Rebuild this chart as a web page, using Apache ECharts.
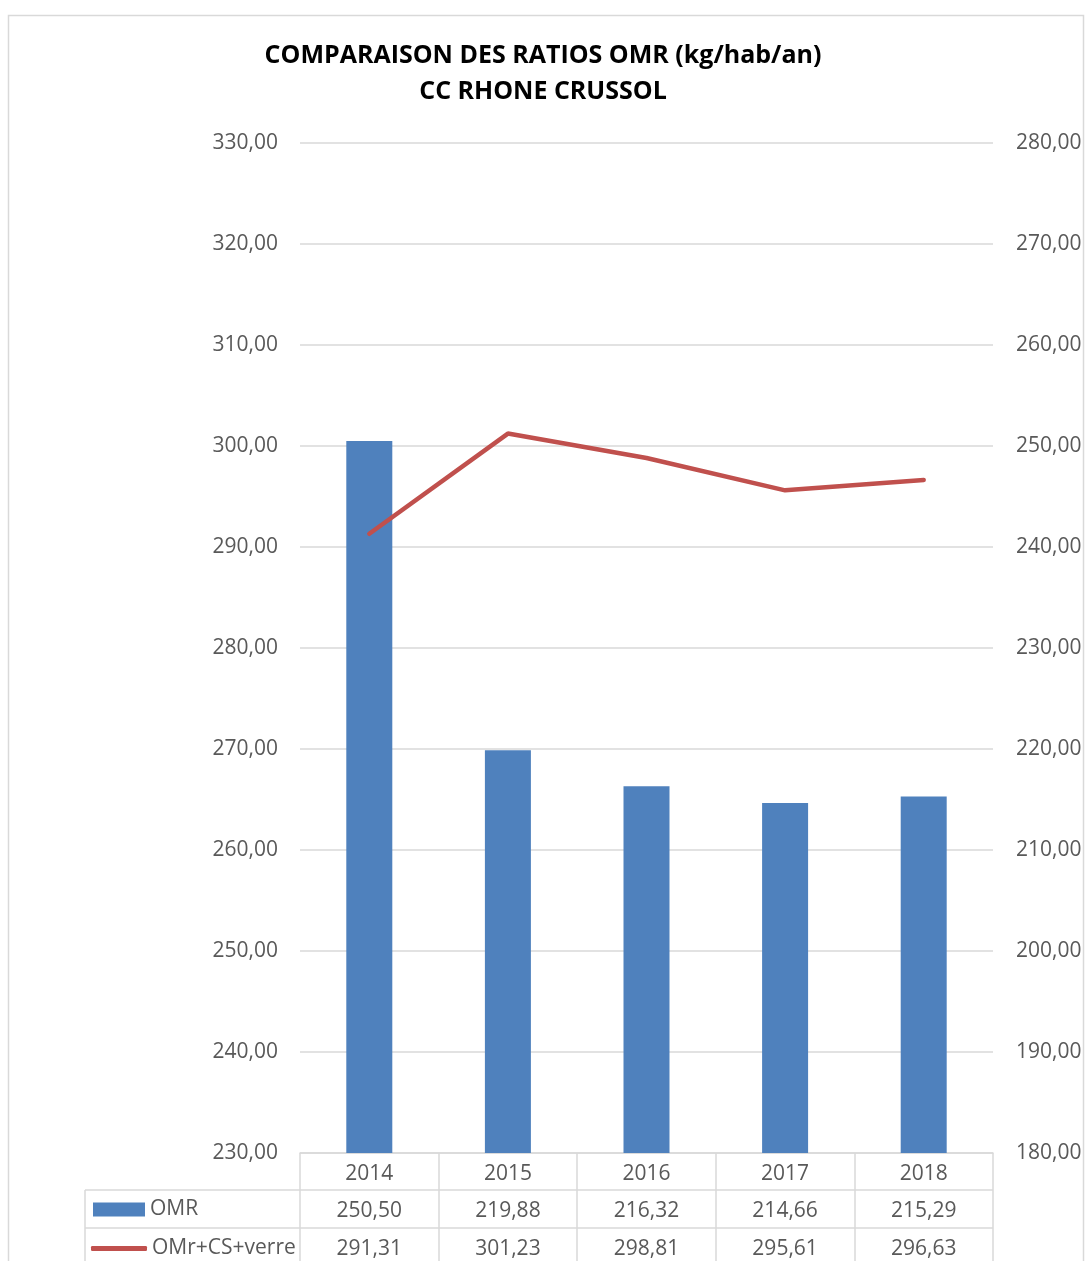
<!DOCTYPE html>
<html>
<head>
<meta charset="utf-8">
<script src="https://cdn.jsdelivr.net/npm/echarts@6/dist/echarts.min.js"></script>
<style>
html,body{margin:0;padding:0;background:#fff;}
#c{width:1086px;height:1261px;}
</style>
</head>
<body>
<div id="c"></div>
<script>
var categories = ['2014', '2015', '2016', '2017', '2018'];
var omrValues = [250.50, 219.88, 216.32, 214.66, 215.29];
var totalValues = [291.31, 301.23, 298.81, 295.61, 296.63];
var seriesNames = ['OMR', 'OMr+CS+verre'];
var titleLines = ['COMPARAISON DES RATIOS OMR (kg/hab/an)', 'CC RHONE CRUSSOL'];

var FONT = 'Open Sans';
var GRAY = '#595959';
var GRID = '#D9D9D9';
var FS = 21;
function fr(v) { return Number(v).toFixed(2).replace('.', ','); }

var chart = echarts.init(document.getElementById('c'));
chart.setOption({
  backgroundColor: '#fff',
  animation: false,
  title: {
    text: titleLines.join('\n'),
    left: 'center',
    top: 33,
    textStyle: { fontFamily: FONT, fontWeight: 'bold', fontSize: 25, lineHeight: 36, color: '#000' }
  },
  legend: [
    {
      left: 93, top: 1199, padding: 0, itemWidth: 52, itemHeight: 14,
      textStyle: { fontFamily: FONT, fontSize: FS, color: GRAY },
      data: [{ name: seriesNames[0], icon: 'rect' }]
    },
    {
      left: 91, top: 1238, padding: 0, itemWidth: 56, itemHeight: 5,
      textStyle: { fontFamily: FONT, fontSize: FS, color: GRAY },
      data: [{ name: seriesNames[1], icon: 'roundRect' }]
    }
  ],
  grid: { left: 300, right: 93, top: 143, bottom: 108 },
  xAxis: [
    {
      type: 'category', data: categories, position: 'bottom',
      axisLine: { lineStyle: { color: GRID, width: 1.5 } },
      axisTick: { show: true, length: 113, lineStyle: { color: GRID, width: 1.5 } },
      axisLabel: { fontFamily: FONT, fontSize: FS, color: GRAY, margin: 11 }
    },
    {
      type: 'category', data: omrValues.map(fr), position: 'bottom', offset: 38,
      axisLine: { show: false }, axisTick: { show: false },
      axisLabel: { fontFamily: FONT, fontSize: FS, color: GRAY, margin: 10 }
    },
    {
      type: 'category', data: totalValues.map(fr), position: 'bottom', offset: 76,
      axisLine: { show: false }, axisTick: { show: false },
      axisLabel: { fontFamily: FONT, fontSize: FS, color: GRAY, margin: 10 }
    }
  ],
  yAxis: [
    {
      type: 'value', min: 230, max: 330, interval: 10, position: 'left',
      axisLine: { show: false }, axisTick: { show: false },
      splitLine: { lineStyle: { color: GRID, width: 1.5 } },
      axisLabel: { fontFamily: FONT, fontSize: FS, color: GRAY, margin: 22, formatter: fr }
    },
    {
      type: 'value', min: 180, max: 280, interval: 10, position: 'right',
      axisLine: { show: false }, axisTick: { show: false },
      splitLine: { show: false },
      axisLabel: { fontFamily: FONT, fontSize: FS, color: GRAY, margin: 23, formatter: fr }
    }
  ],
  graphic: [
    { type: 'rect', shape: { x: 8.5, y: 15.5, width: 1075, height: 1260 }, style: { fill: 'none', stroke: GRID, lineWidth: 1.5 }, silent: true },
    { type: 'line', shape: { x1: 85, y1: 1190, x2: 993, y2: 1190 }, style: { stroke: GRID, lineWidth: 1.5 }, silent: true },
    { type: 'line', shape: { x1: 85, y1: 1228, x2: 993, y2: 1228 }, style: { stroke: GRID, lineWidth: 1.5 }, silent: true },
    { type: 'line', shape: { x1: 85, y1: 1190, x2: 85, y2: 1266 }, style: { stroke: GRID, lineWidth: 1.5 }, silent: true }
  ],
  series: [
    {
      name: seriesNames[0], type: 'bar', xAxisIndex: 0, yAxisIndex: 1,
      data: omrValues, barWidth: 46,
      itemStyle: { color: '#4F81BD' }
    },
    {
      name: seriesNames[1], type: 'line', xAxisIndex: 0, yAxisIndex: 0,
      data: totalValues, symbol: 'none',
      lineStyle: { color: '#C0504D', width: 4.5, cap: 'round' },
      itemStyle: { color: '#C0504D' }
    }
  ]
});
</script>
</body>
</html>
